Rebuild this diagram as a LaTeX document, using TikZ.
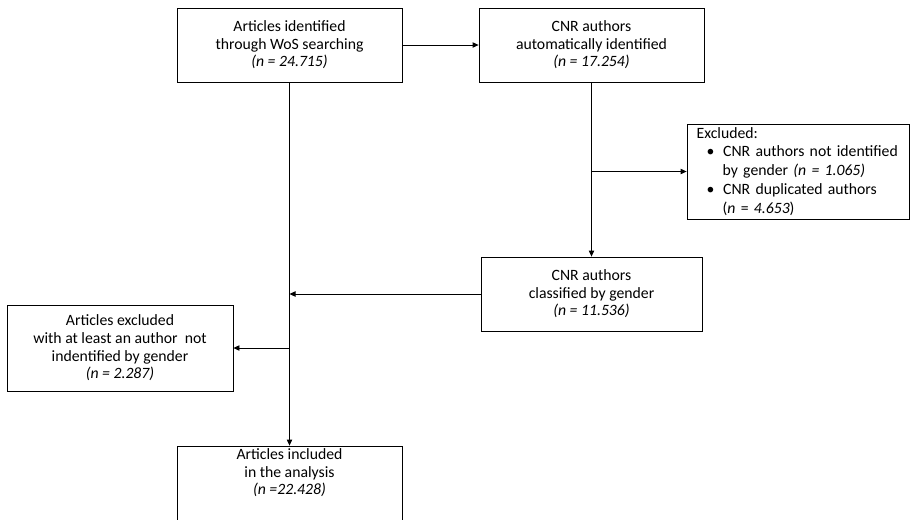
\documentclass[tikz,border=0pt]{standalone}
\usepackage{fontspec}
\setmainfont{Carlito}
\usetikzlibrary{arrows.meta}
\tikzset{
  box/.style={draw, line width=0.6pt, align=center, inner sep=0pt,
    minimum width=168.75pt, minimum height=55.5pt},
  flow/.style={line width=0.6pt, -{Triangle[length=4.5pt,width=4pt]}},
  every node/.style={font=\fontsize{11.8}{13.2}\selectfont}
}

\begin{document}
\begin{tikzpicture}[x=0.75pt,y=-0.75pt]
\useasboundingbox (0,0) rectangle (913,519);
% boxes
\node[box] (wos) at (289.5,45) {Articles identified\\through WoS searching\\\textit{(n = 24.715)}};
\node[box] (auto) at (591.5,45) {CNR authors\\automatically identified\\\textit{(n = 17.254)}};
\node[box, minimum width=166.5pt, minimum height=71.25pt, align=left, text width=152pt,
  font=\fontsize{11.8}{14.2}\selectfont] (excl) at (798,171.5)
  {Excluded:\\
   \hspace*{7.5pt}\textbullet\hspace{6.5pt}CNR authors not identified\\
   \hspace*{19.5pt}by gender \textit{(n = 1.065)}\\
   \hspace*{7.5pt}\textbullet\hspace{6.5pt}CNR duplicated authors\\
   \hspace*{19.5pt}(\textit{n} = \textit{4.653})};
\node[box, minimum width=165.75pt] (gender) at (591.5,294) {CNR authors\\classified by gender\\\textit{(n = 11.536)}};
\node[box, minimum width=169.5pt, minimum height=64.5pt] (artexcl) at (120,348)
  {Articles excluded\\with at least an author\ \ not\\indentified by gender\\\textit{(n = 2.287)}};
\node[box] (incl) at (289.5,483) {};
\node[align=center] (incltext) at (289.5,473) {Articles included\\in the analysis\\\textit{(n =22.428)}};
% connectors
\draw[flow] (wos.east) -- (auto.west);
\draw[flow] (wos.south) -- (incl.north);
\draw[flow] (auto.south) -- (gender.north);
\draw[flow] (auto.south |- excl.west) -- (excl.west);
\draw[flow] (gender.west) -- (gender.west -| wos.south);
\draw[flow] (artexcl.east -| wos.south) -- (artexcl.east);
\end{tikzpicture}
\end{document}
